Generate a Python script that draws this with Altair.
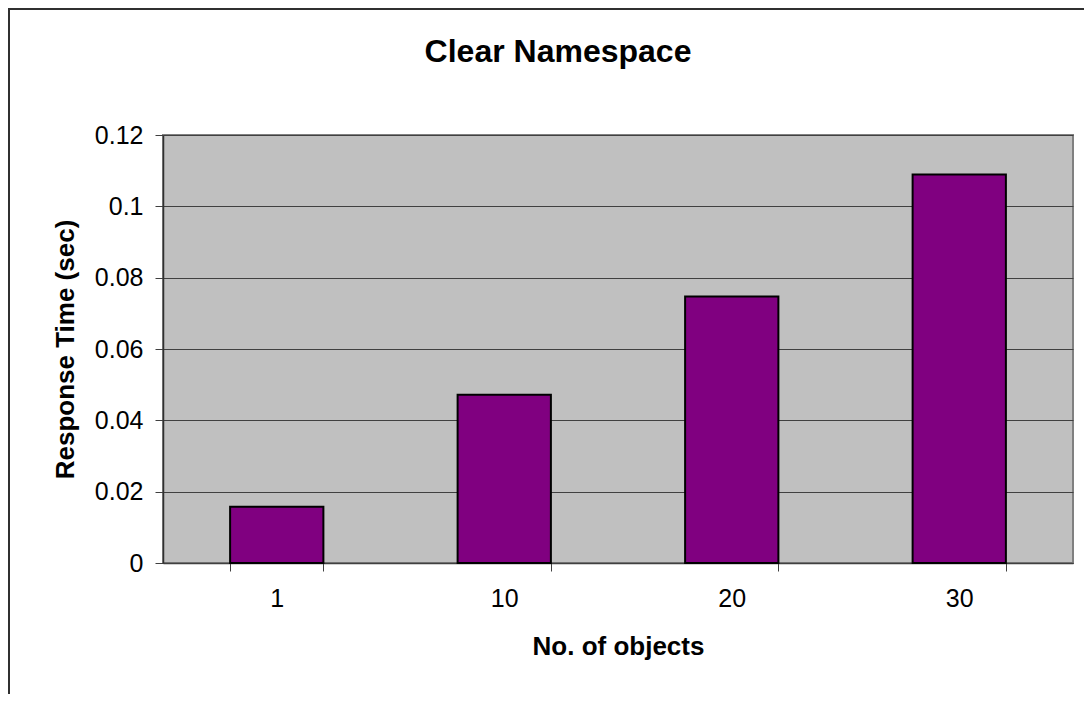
import altair as alt
import pandas as pd

# Data
objects = ["1", "10", "20", "30"]
response_times = [0.0158, 0.0472, 0.0747, 0.1089]
y_ticks = [0, 0.02, 0.04, 0.06, 0.08, 0.1, 0.12]

df = pd.DataFrame({"objects": objects, "time": response_times})

FONT = "Liberation Sans"

bars = alt.Chart(df).mark_bar(
    fill="#800080", stroke="#000000", strokeWidth=2
).encode(
    x=alt.X(
        "objects:N",
        sort=objects,
        title="No. of objects",
        scale=alt.Scale(paddingInner=0.59, paddingOuter=0.295),
        axis=alt.Axis(
            labelAngle=0,
            tickBand="extent",
            tickSize=8,
            tickColor="#404040",
            domainColor="#404040",
            labelFontSize=25,
            labelPadding=15,
            titleFontSize=26,
            titleFontWeight="bold",
            titlePadding=22,
            grid=False,
        ),
    ),
    y=alt.Y(
        "time:Q",
        title="Response Time (sec)",
        scale=alt.Scale(domain=[0, 0.12], nice=False),
        axis=alt.Axis(
            values=y_ticks,
            labelExpr="toString(datum.value)",
            tickSize=8,
            tickColor="#404040",
            domainColor="#303030",
            gridColor="#404040",
            gridWidth=1,
            labelFontSize=25,
            labelPadding=12,
            titleFontSize=26,
            titleFontWeight="bold",
            titlePadding=16,
        ),
    ),
)

frame = alt.Chart(pd.DataFrame({"a": [0]})).mark_rect(
    fill="transparent", stroke="#303030", strokeWidth=2
).encode(
    x=alt.value(-154), x2=alt.value(2000),
    y=alt.value(-126), y2=alt.value(1000),
)

chart = alt.layer(frame, bars).properties(
    width=910,
    height=428,
    title=alt.TitleParams(
        "Clear Namespace", fontSize=32, fontWeight="bold", font=FONT,
        anchor="middle", dx=-60, offset=0, dy=86, baseline="alphabetic",
        color="#000000",
    ),
    autosize=alt.AutoSizeParams(type="none"),
    padding={"left": 155, "top": 127, "right": 11, "bottom": 131},
).configure(
    font=FONT,
    background="#ffffff",
).configure_view(
    fill="#C0C0C0", stroke="#808080", strokeWidth=2,
).configure_axis(
    labelFont=FONT, titleFont=FONT, labelColor="#000000", titleColor="#000000",
    domainWidth=1.5,
)

chart.save("out.html", embed_options={"renderer": "svg", "actions": False})
